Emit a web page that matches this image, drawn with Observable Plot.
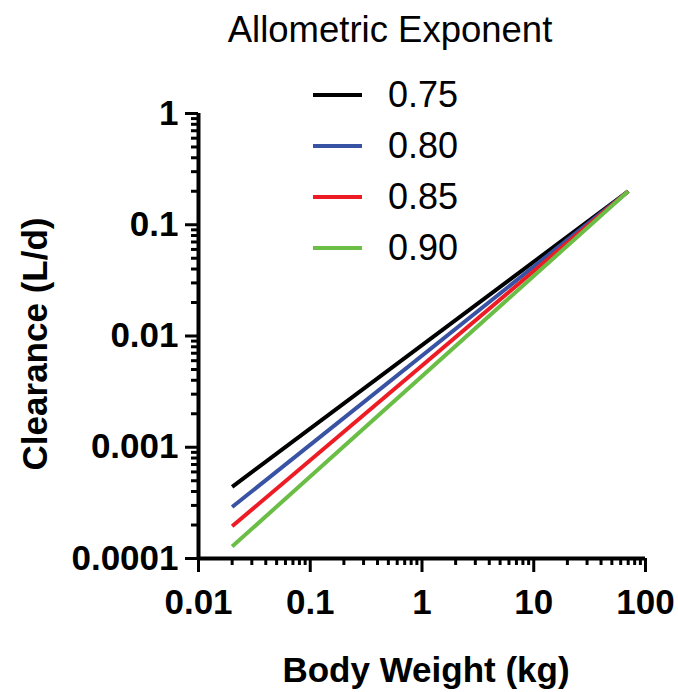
<!DOCTYPE html>
<html>
<head>
<meta charset="utf-8">
<script src="https://cdn.jsdelivr.net/npm/d3@7"></script>
<script src="https://cdn.jsdelivr.net/npm/@observablehq/plot@0.6"></script>
<style>
  html, body { margin: 0; padding: 0; background: #ffffff; }
  #chart { width: 678px; height: 692px; }
</style>
</head>
<body>
<div id="chart"></div>
<script>
// ---- data ----
const exponents = ["0.75", "0.80", "0.85", "0.90"];
const colors = ["#000000", "#3953a4", "#ed1c24", "#6abd45"];
const bodyWeight = [0.02, 70];               // kg, line end points
const clearance075 = [0.00044, 0.2];
const clearance080 = [0.00029, 0.2];
const clearance085 = [0.000195, 0.2];
const clearance090 = [0.000128, 0.2];
const xTicks = [0.01, 0.1, 1, 10, 100];
const xTickLabels = ["0.01", "0.1", "1", "10", "100"];
const yTicks = [0.0001, 0.001, 0.01, 0.1, 1];
const yTickLabels = ["0.0001", "0.001", "0.01", "0.1", "1"];
const xTitle = "Body Weight (kg)";
const yTitle = "Clearance (L/d)";
const legendTitle = "Allometric Exponent";

const series = [clearance075, clearance080, clearance085, clearance090];
const rows = [];
series.forEach((vals, i) => {
  vals.forEach((v, j) => rows.push({exp: exponents[i], w: bodyWeight[j], cl: v}));
});

function minors(lo, hi) {
  const out = [];
  for (let d = lo; d < hi; d *= 10) for (let k = 2; k <= 9; k++) out.push(+(d * k).toPrecision(3));
  return out;
}
const xMinor = minors(0.01, 100);
const yMinor = minors(0.0001, 1);

const FONT = "'Liberation Sans', Arial, Helvetica, sans-serif";

const plot = Plot.plot({
  width: 678,
  height: 692,
  marginLeft: 198,
  marginRight: 33,
  marginTop: 113,
  marginBottom: 134,
  style: {fontFamily: FONT, background: "#ffffff", color: "#000"},
  x: {type: "log", domain: [0.01, 100]},
  y: {type: "log", domain: [0.0001, 1]},
  color: {domain: exponents, range: colors},
  marks: [
    // minor ticks
    Plot.axisX({ticks: xMinor, tickSize: 7, strokeWidth: 3, text: null, label: null}),
    Plot.axisY({ticks: yMinor, tickSize: 7, strokeWidth: 3, text: null, label: null}),
    // major ticks with labels
    Plot.axisX({
      ticks: xTicks, tickSize: 14, strokeWidth: 3, tickPadding: 17,
      tickFormat: d => xTickLabels[xTicks.indexOf(d)],
      fontSize: 35, fontWeight: "bold", label: null
    }),
    Plot.axisY({
      ticks: yTicks, tickSize: 13, strokeWidth: 3, tickPadding: 7,
      tickFormat: d => yTickLabels[yTicks.indexOf(d)],
      fontSize: 35, fontWeight: "bold", label: null
    }),
    // axis lines
    Plot.ruleY([0.0001], {strokeWidth: 4, stroke: "#000"}),
    Plot.ruleX([0.01], {strokeWidth: 4, stroke: "#000"}),
    // data lines
    Plot.line(rows, {x: "w", y: "cl", z: "exp", stroke: "exp", strokeWidth: 4, strokeLinecap: "butt"}),
    // axis titles
    Plot.text([xTitle], {frameAnchor: "bottom", lineAnchor: "bottom", textAnchor: "middle", dy: 123, dx: 4,
      fontSize: 35, fontWeight: "bold", fill: "#000"}),
    Plot.text([yTitle], {frameAnchor: "left", lineAnchor: "bottom", textAnchor: "middle", rotate: -90, dx: -152, dy: 8,
      fontSize: 35, fontWeight: "bold", fill: "#000"})
  ]
});
document.getElementById("chart").appendChild(plot);

// legend drawn into the same svg
const svg = d3.select(plot);
const lg = svg.append("g").attr("font-family", FONT);
lg.append("text").attr("x", 390).attr("y", 42).attr("text-anchor", "middle")
  .attr("font-size", 36.5).attr("fill", "#000").text(legendTitle);
exponents.forEach((e, i) => {
  const yLine = 95 + 51 * i;
  lg.append("line").attr("x1", 313).attr("x2", 362).attr("y1", yLine).attr("y2", yLine)
    .attr("stroke", colors[i]).attr("stroke-width", 4);
  lg.append("text").attr("x", 388).attr("y", yLine + 12).attr("text-anchor", "start")
    .attr("font-size", 36).attr("fill", "#000").text(e);
});
</script>
</body>
</html>
